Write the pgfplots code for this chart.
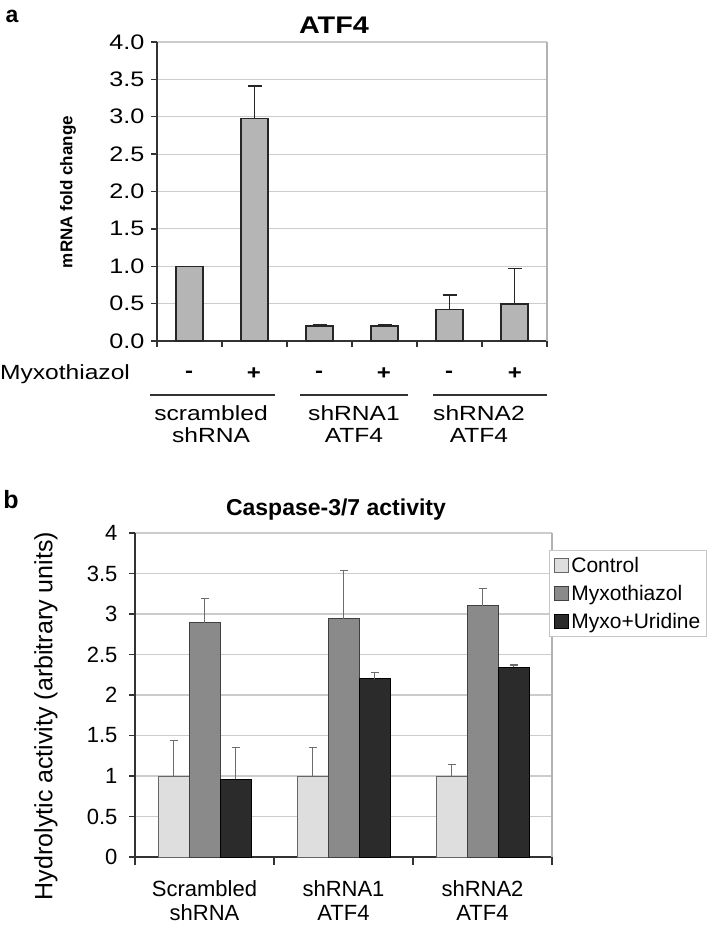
\documentclass[border=0pt]{standalone}
\usepackage{fontspec}
\setmainfont{Liberation Sans}
\newfontfamily\sa[FakeStretch=1.2]{Liberation Sans}
\usepackage{pgfplots}
\pgfplotsset{compat=1.18}
\definecolor{barA}{gray}{0.71}
\definecolor{ctrl}{gray}{0.87}
\definecolor{myxo}{gray}{0.54}
\definecolor{urid}{gray}{0.17}
\definecolor{gridc}{gray}{0.80}
\definecolor{axc}{gray}{0.2}
\newcommand\fs[1]{\fontsize{#1}{#1}\selectfont}

\pgfplotstableread{
x y e
0 1.00 0
1 2.98 0.43
2 0.20 0.02
3 0.20 0.02
4 0.42 0.195
5 0.495 0.475
}\atfdata

\pgfplotstableread{
x ctrl ectrl myxo emyxo urid eurid
0 1.00 0.44 2.89 0.30 0.96 0.39
1 1.00 0.35 2.94 0.60 2.20 0.08
2 1.00 0.14 3.10 0.22 2.34 0.03
}\casdata

\begin{document}
\begin{tikzpicture}
\useasboundingbox (0pt,0pt) rectangle (720pt,-931pt);
% ---------------- panel a
\begin{axis}[
  at={(157pt,-341pt)}, anchor=south west, scale only axis,
  width=390pt, height=299pt,
  xmin=-0.5, xmax=5.5, ymin=0, ymax=4,
  clip=false,
  axis x line*=bottom, axis y line*=left,
  axis line style={draw=axc, line width=1.5pt},
  tick align=outside,
  ytick={0,0.5,1,1.5,2,2.5,3,3.5,4},
  yticklabels={0.0,0.5,1.0,1.5,2.0,2.5,3.0,3.5,4.0},
  yticklabel style={font=\sa\fs{21}, xshift=-3pt},
  major tick length=6pt,
  ytick style={draw=axc, line width=1.3pt},
  xtick={0,1,2,3,4,5}, xticklabels={},
  major x tick style={draw=none},
  minor xtick={-0.5,0.5,1.5,2.5,3.5,4.5,5.5},
  minor tick length=6pt,
  minor x tick style={draw=axc, line width=1.3pt},
  ymajorgrids, major grid style={draw=gridc, line width=1.2pt},
]
\addplot[ybar, bar width=27pt, fill=barA, draw=black!85, line width=1.3pt,
  error bars/.cd, y dir=plus, y explicit,
  error bar style={line width=1.3pt, draw=black!85},
  error mark options={rotate=90, mark size=7pt, line width=1.3pt, draw=black!85}]
  table[x=x, y=y, y error=e] {\atfdata};
\draw[gray!60, line width=1.2pt] (rel axis cs:1,0) -- (rel axis cs:1,1);
\end{axis}
\node[font=\bfseries\fs{23}] at (12pt,-16pt) {a};
\node[font=\sa\bfseries\fs{24}] at (334pt,-25pt) {ATF4};
\node[font=\bfseries\fs{17}, rotate=90] at (68pt,-192pt) {mRNA fold change};
\node[font=\sa\fs{20.5}] at (65pt,-374pt) {Myxothiazol};
\foreach \xx/\ss in {189/-,254/+,319/-,384/+,449/-,515/+}
  \node[font=\sa\bfseries\fs{20}] at (\xx pt,-374pt) {\ss};
\draw[axc, line width=1.4pt] (150pt,-395pt) -- (275pt,-395pt);
\draw[axc, line width=1.4pt] (300pt,-395pt) -- (408pt,-395pt);
\draw[axc, line width=1.4pt] (433pt,-395pt) -- (547pt,-395pt);
\node[font=\sa\fontsize{20.5}{22}\selectfont, align=center] at (211pt,-424pt) {scrambled\\shRNA};
\node[font=\sa\fontsize{20.5}{22}\selectfont, align=center] at (354pt,-424pt) {shRNA1\\ATF4};
\node[font=\sa\fontsize{20.5}{22}\selectfont, align=center] at (479pt,-424pt) {shRNA2\\ATF4};

% ---------------- panel b
\begin{axis}[
  at={(135pt,-857pt)}, anchor=south west, scale only axis,
  width=417pt, height=324pt,
  xmin=-0.5, xmax=2.5, ymin=0, ymax=4,
  clip=false,
  ybar=0pt, bar width=31pt,
  axis x line*=bottom, axis y line*=left,
  axis line style={draw=axc, line width=1.5pt},
  tick align=outside,
  ytick={0,0.5,1,1.5,2,2.5,3,3.5,4},
  yticklabels={0,0.5,1,1.5,2,2.5,3,3.5,4},
  yticklabel style={font=\fs{22}, xshift=-8pt},
  major tick length=6pt,
  ytick style={draw=axc, line width=1.3pt},
  xtick={0,1,2}, xticklabels={},
  major x tick style={draw=none},
  minor xtick={-0.5,0.5,1.5,2.5},
  minor tick length=8pt,
  minor x tick style={draw=axc, line width=1.3pt},
  ymajorgrids, major grid style={draw=gridc, line width=1.2pt},
  legend style={at={(axis description cs:0.993,0.9475)}, anchor=north west,
    draw=gray!45, line width=1pt, font=\fs{21}, inner xsep=4pt, inner ysep=5pt,
    row sep=7pt, /tikz/every odd column/.append style={column sep=1pt}},
  legend cell align=left,
  legend image code/.code={\draw[#1, line width=0.8pt] (0pt,-7pt) rectangle (14pt,7pt);},
]
\addplot[fill=ctrl, draw=black!60, line width=1pt,
  error bars/.cd, y dir=plus, y explicit,
  error bar style={line width=1.1pt, draw=gray!85!black},
  error mark options={rotate=90, mark size=4pt, line width=1.1pt, draw=gray!85!black}]
  table[x=x, y=ctrl, y error=ectrl] {\casdata};
\addplot[fill=myxo, draw=black!75, line width=1pt,
  error bars/.cd, y dir=plus, y explicit,
  error bar style={line width=1.1pt, draw=gray!85!black},
  error mark options={rotate=90, mark size=4pt, line width=1.1pt, draw=gray!85!black}]
  table[x=x, y=myxo, y error=emyxo] {\casdata};
\addplot[fill=urid, draw=black, line width=1pt,
  error bars/.cd, y dir=plus, y explicit,
  error bar style={line width=1.1pt, draw=gray!85!black},
  error mark options={rotate=90, mark size=4pt, line width=1.1pt, draw=gray!85!black}]
  table[x=x, y=urid, y error=eurid] {\casdata};
\legend{Control,Myxothiazol,Myxo+Uridine}
\draw[gray!60, line width=1.2pt] (rel axis cs:1,0) -- (rel axis cs:1,1);
\end{axis}
\node[font=\bfseries\fs{25}] at (11pt,-500pt) {b};
\node[font=\bfseries\fs{23}] at (336pt,-510pt) {Caspase-3/7 activity};
\node[font=\fs{25}, rotate=90] at (46pt,-716pt) {Hydrolytic activity (arbitrary units)};
\node[font=\fontsize{22}{24}\selectfont, align=center] at (204.5pt,-901pt) {Scrambled\\shRNA};
\node[font=\fontsize{22}{24}\selectfont, align=center] at (343.5pt,-901pt) {shRNA1\\ATF4};
\node[font=\fontsize{22}{24}\selectfont, align=center] at (482.5pt,-901pt) {shRNA2\\ATF4};
\end{tikzpicture}
\end{document}
